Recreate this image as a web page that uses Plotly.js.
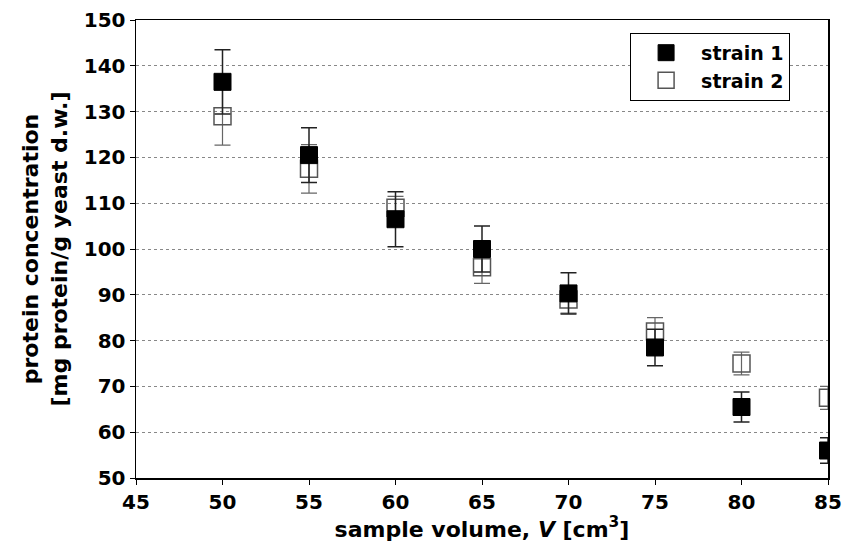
<!DOCTYPE html>
<html>
<head>
<meta charset="utf-8">
<script src="https://cdn.plot.ly/plotly-3.0.1.min.js"></script>
<style>html,body{margin:0;padding:0;background:#fff;}#chart{width:842px;height:548px;}</style>
</head>
<body>
<div id="chart"></div>
<script>
const volume = [50, 55, 60, 65, 70, 75, 80, 85];
const strain1 = [136.5, 120.5, 106.5, 100, 90.3, 78.5, 65.5, 56];
const strain1Err = [7, 6, 6, 5, 4.5, 4, 3.3, 2.8];
const strain2 = [129, 117.5, 109, 96, 89, 82, 75, 67.5];
const strain2Err = [6.3, 5.3, 2.5, 3.5, 3, 3, 2.5, 2.5];
const seriesNames = ['strain 1', 'strain 2'];
const xTicks = [45, 50, 55, 60, 65, 70, 75, 80, 85];
const yTicks = [50, 60, 70, 80, 90, 100, 110, 120, 130, 140, 150];

const font = 'DejaVu Sans, Liberation Sans, Arial, sans-serif';

const traces = [
  {
    x: volume, y: strain2, name: seriesNames[1], type: 'scatter', mode: 'markers',
    legendrank: 2,
    marker: {symbol: 'square', size: 17, color: 'rgba(255,255,255,0)', line: {color: '#555', width: 1.5}},
    error_y: {type: 'data', array: strain2Err, visible: true, color: '#666', thickness: 1.2, width: 8}
  },
  {
    x: volume, y: strain1, name: seriesNames[0], type: 'scatter', mode: 'markers',
    legendrank: 1,
    marker: {symbol: 'square', size: 17, color: '#000', line: {color: '#000', width: 1}},
    error_y: {type: 'data', array: strain1Err, visible: true, color: '#222', thickness: 1.5, width: 8}
  }
];

const layout = {
  width: 842, height: 548,
  margin: {l: 136, r: 14, t: 20, b: 70},
  paper_bgcolor: '#fff', plot_bgcolor: '#fff',
  font: {family: font, color: '#000', size: 20, weight: 'bold'},
  showlegend: true,
  legend: {
    x: 0.714, y: 0.972, xanchor: 'left', yanchor: 'top',
    bordercolor: '#000', borderwidth: 1, bgcolor: '#fff',
    font: {family: font, size: 19, weight: 'bold', color: '#000'},
    itemwidth: 60, tracegroupgap: 2
  },
  xaxis: {
    range: [45, 85], tickvals: xTicks, ticktext: xTicks.map(String),
    showgrid: false, zeroline: false,
    showline: true, linecolor: '#000', linewidth: 1.5, mirror: true,
    ticks: 'outside', ticklen: 5, tickcolor: '#000', tickwidth: 1,
    tickfont: {family: font, size: 20, weight: 'bold', color: '#000'},
    title: {text: 'sample volume, <i>V</i> [cm<sup>3</sup>]', standoff: 3,
            font: {family: font, size: 22, weight: 'bold', color: '#000'}}
  },
  yaxis: {
    range: [50, 150], tickvals: yTicks, ticktext: yTicks.map(String),
    showgrid: true, gridcolor: '#888', gridwidth: 1, griddash: 'dot',
    zeroline: false,
    showline: true, linecolor: '#000', linewidth: 1.5, mirror: true,
    ticks: 'outside', ticklen: 5, tickcolor: '#000', tickwidth: 1,
    tickfont: {family: font, size: 20, weight: 'bold', color: '#000'},
    title: {text: 'protein concentration<br>[mg protein/g yeast d.w.]', standoff: 10,
            font: {family: font, size: 22, weight: 'bold', color: '#000'}}
  }
};

Plotly.newPlot('chart', traces, layout, {displayModeBar: false, staticPlot: true});
</script>
</body>
</html>
